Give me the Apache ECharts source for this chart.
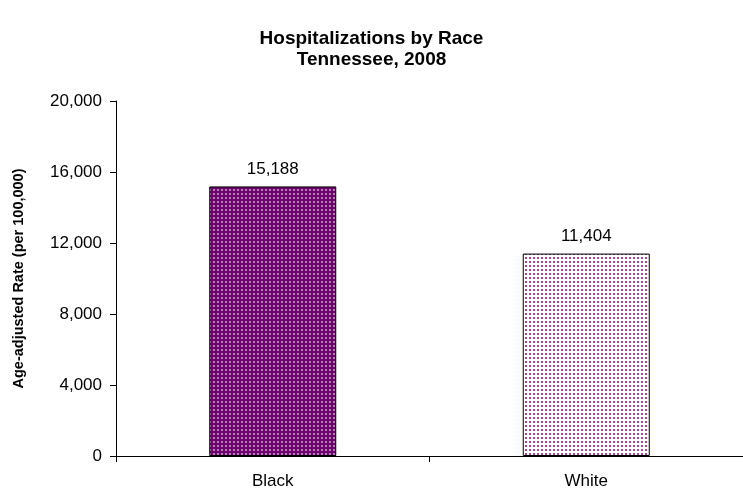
<!DOCTYPE html>
<html>
<head>
<meta charset="utf-8">
<script src="https://cdn.jsdelivr.net/npm/echarts@6/dist/echarts.min.js"></script>
<style>
  html, body { margin: 0; padding: 0; background: #fff; }
  #main { width: 743px; height: 493px; }
</style>
</head>
<body>
<div id="main"></div>
<script>
// 数据
var races = ["Black", "White"];
var rates = [15188, 11404];
var yTicks = [0, 4000, 8000, 12000, 16000, 20000];

// 点状填充（仿 Excel 图案）
function dotPattern(bg, dot) {
  var c = document.createElement("canvas");
  c.width = 4;
  c.height = 4;
  var ctx = c.getContext("2d");
  ctx.fillStyle = bg;
  ctx.fillRect(0, 0, 4, 4);
  ctx.fillStyle = dot;
  ctx.fillRect(1, 1, 2, 2);
  return c;
}

var fills = [
  { image: dotPattern("#6e046e", "#b77cb7"), repeat: "repeat" },
  { image: dotPattern("#ffffff", "#a445a4"), repeat: "repeat" },
];

var myChart = echarts.init(document.getElementById("main"));

var option = {
  animation: false,
  textStyle: { fontFamily: "Liberation Sans, Arial, sans-serif" },
  title: {
    text: "Hospitalizations by Race\nTennessee, 2008",
    left: "center",
    top: 23,
    textStyle: {
      fontSize: 19,
      fontWeight: "bold",
      color: "#000",
      lineHeight: 21,
      fontFamily: "Liberation Sans, Arial, sans-serif",
    },
  },
  grid: { left: 116, top: 101, width: 630, height: 355 },
  xAxis: {
    type: "category",
    data: races,
    axisLine: { lineStyle: { color: "#000", width: 1 } },
    axisTick: { show: true, length: 6, lineStyle: { color: "#000" } },
    axisLabel: { color: "#000", fontSize: 17, margin: 17 },
  },
  yAxis: {
    type: "value",
    min: yTicks[0],
    max: yTicks[yTicks.length - 1],
    interval: 4000,
    name: "Age-adjusted Rate (per 100,000)",
    nameLocation: "middle",
    nameGap: 90,
    nameTextStyle: { fontSize: 14.5, fontWeight: "bold", color: "#000" },
    splitLine: { show: false },
    axisLine: { show: true, lineStyle: { color: "#000", width: 1 } },
    axisTick: { show: true, length: 6, lineStyle: { color: "#000" } },
    axisLabel: {
      color: "#000",
      fontSize: 17,
      margin: 14,
      formatter: function (v) {
        return v.toLocaleString("en-US");
      },
    },
  },
  series: [
    {
      type: "bar",
      barWidth: 127,
      data: rates.map(function (v, i) {
        return {
          value: v,
          itemStyle: { color: fills[i], borderColor: "#000", borderWidth: 1 },
        };
      }),
      label: {
        show: true,
        position: "top",
        distance: 9,
        fontSize: 17,
        color: "#000",
        formatter: function (p) {
          return p.value.toLocaleString("en-US");
        },
      },
    },
  ],
};

myChart.setOption(option);
</script>
</body>
</html>
